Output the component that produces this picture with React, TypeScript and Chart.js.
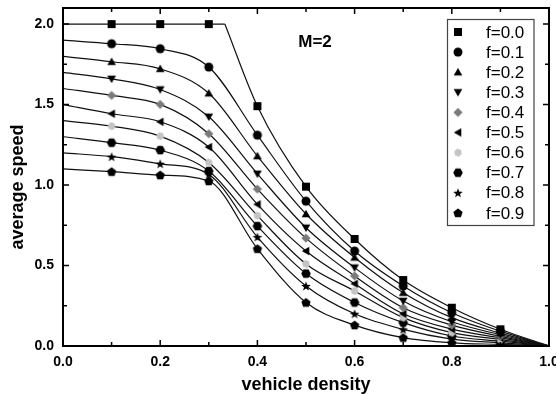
import React, { useEffect, useRef } from 'react';
import { Chart, registerables } from 'chart.js';

Chart.register(...registerables);

const FONT = 'Arial, "Liberation Sans", Helvetica, sans-serif';

// ---- data ----
const DENSITY = [0, 0.1, 0.2, 0.3, 0.4, 0.5, 0.6, 0.7, 0.8, 0.9, 1.0];
const DENSITY_F00 = [0, 0.1, 0.2, 0.3, 0.333, 0.4, 0.5, 0.6, 0.7, 0.8, 0.9, 1.0];
const KNEE_INDEX_F00 = 4;

const SPEED_F00 = [2.0, 2.0, 2.0, 2.0, 2.0, 1.49, 0.99, 0.665, 0.41, 0.238, 0.104, 0];
const SPEED_F01 = [1.9, 1.878, 1.847, 1.733, 1.31, 0.9, 0.59, 0.373, 0.207, 0.092, 0];
const SPEED_F02 = [1.8, 1.766, 1.722, 1.57, 1.18, 0.82, 0.55, 0.331, 0.176, 0.08, 0];
const SPEED_F03 = [1.7, 1.66, 1.594, 1.424, 1.07, 0.735, 0.487, 0.28, 0.151, 0.07, 0];
const SPEED_F04 = [1.6, 1.557, 1.501, 1.319, 0.975, 0.67, 0.435, 0.238, 0.13, 0.06, 0];
const SPEED_F05 = [1.5, 1.443, 1.393, 1.236, 0.88, 0.59, 0.387, 0.2, 0.105, 0.05, 0];
const SPEED_F06 = [1.4, 1.366, 1.304, 1.14, 0.81, 0.51, 0.342, 0.176, 0.083, 0.04, 0];
const SPEED_F07 = [1.3, 1.263, 1.217, 1.087, 0.745, 0.45, 0.27, 0.145, 0.062, 0.03, 0];
const SPEED_F08 = [1.2, 1.176, 1.132, 1.066, 0.677, 0.373, 0.2, 0.103, 0.043, 0.02, 0];
const SPEED_F09 = [1.1, 1.083, 1.062, 1.025, 0.604, 0.27, 0.13, 0.052, 0.02, 0.01, 0];

const SERIES_LABELS = ['f=0.0', 'f=0.1', 'f=0.2', 'f=0.3', 'f=0.4', 'f=0.5', 'f=0.6', 'f=0.7', 'f=0.8', 'f=0.9'];
const OTHER_SPEEDS = [SPEED_F01, SPEED_F02, SPEED_F03, SPEED_F04, SPEED_F05, SPEED_F06, SPEED_F07, SPEED_F08, SPEED_F09];

const X_TICKS = [0, 0.2, 0.4, 0.6, 0.8, 1.0];
const Y_TICKS = [0, 0.5, 1.0, 1.5, 2.0];
const ANNOTATION = 'M=2';
const X_TITLE = 'vehicle density';
const Y_TITLE = 'average speed';

// ---- marker styles ----
const MARKER_KINDS = ['square', 'circle', 'triUp', 'triDown', 'diamond', 'triLeft', 'pale', 'hexagon', 'star', 'pentagon'];
const MARKER_COLORS = ['#000', '#000', '#000', '#000', '#7a7a7a', '#000', '#c4c4c4', '#000', '#000', '#000'];

function polygon(ctx: CanvasRenderingContext2D, cx: number, cy: number, r: number, n: number, rot: number) {
  ctx.beginPath();
  for (let i = 0; i < n; i++) {
    const a = rot + (i * 2 * Math.PI) / n;
    const px = cx + r * Math.cos(a);
    const py = cy + r * Math.sin(a);
    if (i === 0) ctx.moveTo(px, py);
    else ctx.lineTo(px, py);
  }
  ctx.closePath();
  ctx.fill();
}

function makeMarker(kind: string, color: string): HTMLCanvasElement {
  const c = document.createElement('canvas');
  c.width = 12;
  c.height = 12;
  const ctx = c.getContext('2d')!;
  ctx.fillStyle = color;
  const cx = 6;
  const cy = 6;
  switch (kind) {
    case 'square':
      ctx.fillRect(2, 2, 8, 8);
      break;
    case 'circle':
      ctx.beginPath();
      ctx.arc(cx, cy, 4.5, 0, Math.PI * 2);
      ctx.fill();
      break;
    case 'triUp':
      polygon(ctx, cx, cy + 0.8, 5, 3, -Math.PI / 2);
      break;
    case 'triDown':
      polygon(ctx, cx, cy - 0.8, 5, 3, Math.PI / 2);
      break;
    case 'diamond':
      polygon(ctx, cx, cy, 4.6, 4, 0);
      break;
    case 'triLeft':
      polygon(ctx, cx + 0.8, cy, 5, 3, Math.PI);
      break;
    case 'pale':
      polygon(ctx, cx, cy, 4, 6, 0.3);
      break;
    case 'hexagon':
      polygon(ctx, cx, cy, 4.8, 6, 0);
      break;
    case 'star': {
      ctx.beginPath();
      for (let i = 0; i < 10; i++) {
        const r = i % 2 === 0 ? 5 : 2.1;
        const a = -Math.PI / 2 + (i * Math.PI) / 5;
        const px = cx + r * Math.cos(a);
        const py = cy + 0.5 + r * Math.sin(a);
        if (i === 0) ctx.moveTo(px, py);
        else ctx.lineTo(px, py);
      }
      ctx.closePath();
      ctx.fill();
      break;
    }
    case 'pentagon':
      polygon(ctx, cx, cy + 0.4, 4.9, 5, -Math.PI / 2);
      break;
  }
  return c;
}

function isMarked(x: number) {
  return x > 0.01 && x < 0.99 && Math.abs(x * 10 - Math.round(x * 10)) < 1e-6;
}

export default function App() {
  const ref = useRef<HTMLCanvasElement>(null);

  useEffect(() => {
    const markers = MARKER_KINDS.map((k, i) => makeMarker(k, MARKER_COLORS[i]));

    const lineBase = {
      borderColor: '#111',
      borderWidth: 1.2,
      backgroundColor: '#000',
      cubicInterpolationMode: 'monotone' as const,
      pointRadius: (c: any) => (c.raw && isMarked(c.raw.x) ? 4 : 0),
      pointHoverRadius: 0,
      fill: false,
    };

    const datasets: any[] = [];
    // f=0.0: plateau up to the knee, then the decaying branch
    datasets.push({
      ...lineBase,
      label: SERIES_LABELS[0],
      cubicInterpolationMode: 'default',
      tension: 0,
      pointStyle: markers[0],
      data: DENSITY_F00.slice(0, KNEE_INDEX_F00 + 1).map((x, i) => ({ x, y: SPEED_F00[i] })),
    });
    datasets.push({
      ...lineBase,
      label: SERIES_LABELS[0] + ' (branch)',
      pointStyle: markers[0],
      data: DENSITY_F00.slice(KNEE_INDEX_F00).map((x, i) => ({ x, y: SPEED_F00[i + KNEE_INDEX_F00] })),
    });
    OTHER_SPEEDS.forEach((arr, k) => {
      datasets.push({
        ...lineBase,
        label: SERIES_LABELS[k + 1],
        pointStyle: markers[k + 1],
        data: DENSITY.map((x, i) => ({ x, y: arr[i] })),
      });
    });

    const decor = {
      id: 'decor',
      afterDraw(chart: any) {
        const { ctx, chartArea: a, scales } = chart;
        const xs = scales.x;
        const ys = scales.y;
        ctx.save();
        // frame
        ctx.strokeStyle = '#000';
        ctx.lineWidth = 2;
        ctx.strokeRect(a.left, a.top, a.right - a.left, a.bottom - a.top);
        // inward ticks
        ctx.lineWidth = 1.5;
        ctx.beginPath();
        for (let v = 0; v <= 10; v++) {
          const val = v / 10;
          const px = xs.getPixelForValue(val);
          const len = v % 2 === 0 ? 6 : 4;
          ctx.moveTo(px, a.bottom);
          ctx.lineTo(px, a.bottom - len);
          ctx.moveTo(px, a.top);
          ctx.lineTo(px, a.top + len);
        }
        for (let v = 0; v <= 8; v++) {
          const val = v * 0.25;
          const py = ys.getPixelForValue(val);
          const len = v % 2 === 0 ? 6 : 4;
          ctx.moveTo(a.left, py);
          ctx.lineTo(a.left + len, py);
          ctx.moveTo(a.right, py);
          ctx.lineTo(a.right - len, py);
        }
        ctx.stroke();

        // annotation
        ctx.fillStyle = '#000';
        ctx.font = `bold 17px ${FONT}`;
        ctx.textAlign = 'center';
        ctx.textBaseline = 'middle';
        ctx.fillText(ANNOTATION, 315, 42);

        // axis titles
        ctx.font = `bold 18px ${FONT}`;
        ctx.fillText(X_TITLE, (a.left + a.right) / 2, 385);
        ctx.save();
        ctx.translate(18, 187);
        ctx.rotate(-Math.PI / 2);
        ctx.fillText(Y_TITLE, 0, 0);
        ctx.restore();

        // legend
        const bx = 447.5;
        const by = 19.5;
        const bw = 86.5;
        const bh = 206;
        ctx.fillStyle = '#fff';
        ctx.fillRect(bx, by, bw, bh);
        ctx.strokeStyle = '#444';
        ctx.lineWidth = 1.2;
        ctx.strokeRect(bx, by, bw, bh);
        ctx.fillStyle = '#000';
        ctx.font = `17px ${FONT}`;
        ctx.textAlign = 'left';
        ctx.textBaseline = 'middle';
        SERIES_LABELS.forEach((lab, i) => {
          const y = 32 + i * 20.1;
          const m = markers[i];
          ctx.drawImage(m, 458 - m.width / 2, y - m.height / 2);
          ctx.fillText(lab, 486, y + 1);
        });
        ctx.restore();
      },
    };

    const chart = new Chart(ref.current!, {
      type: 'line',
      data: { datasets },
      options: {
        animation: false,
        responsive: true,
        maintainAspectRatio: false,
        layout: { padding: { top: 8, right: 7, left: 0, bottom: 0 } },
        plugins: { legend: { display: false }, tooltip: { enabled: false } },
        events: [],
        scales: {
          x: {
            type: 'linear',
            min: 0,
            max: 1,
            afterBuildTicks: (s: any) => {
              s.ticks = X_TICKS.map((v) => ({ value: v }));
            },
            afterFit: (s: any) => {
              s.height = 48;
              s.paddingLeft = 0;
              s.paddingRight = 0;
            },
            grid: { display: false, drawTicks: false },
            border: { display: false },
            ticks: {
              padding: 8,
              color: '#000',
              font: { family: FONT, size: 14, weight: 'bold' },
              maxRotation: 0,
              callback: (v: any) => Number(v).toFixed(1),
            },
          },
          y: {
            type: 'linear',
            min: 0,
            max: 2.1,
            afterBuildTicks: (s: any) => {
              s.ticks = Y_TICKS.map((v) => ({ value: v }));
            },
            afterFit: (s: any) => {
              s.width = 63;
              s.paddingTop = 0;
              s.paddingBottom = 0;
            },
            grid: { display: false, drawTicks: false },
            border: { display: false },
            ticks: {
              padding: 9,
              color: '#000',
              font: { family: FONT, size: 14, weight: 'bold' },
              callback: (v: any) => Number(v).toFixed(1),
            },
          },
        },
      } as any,
      plugins: [decor],
    });
    return () => chart.destroy();
  }, []);

  return (
    <div style={{ position: 'absolute', left: 0, top: 0, width: 556, height: 394, background: '#fff' }}>
      <canvas ref={ref} />
    </div>
  );
}
